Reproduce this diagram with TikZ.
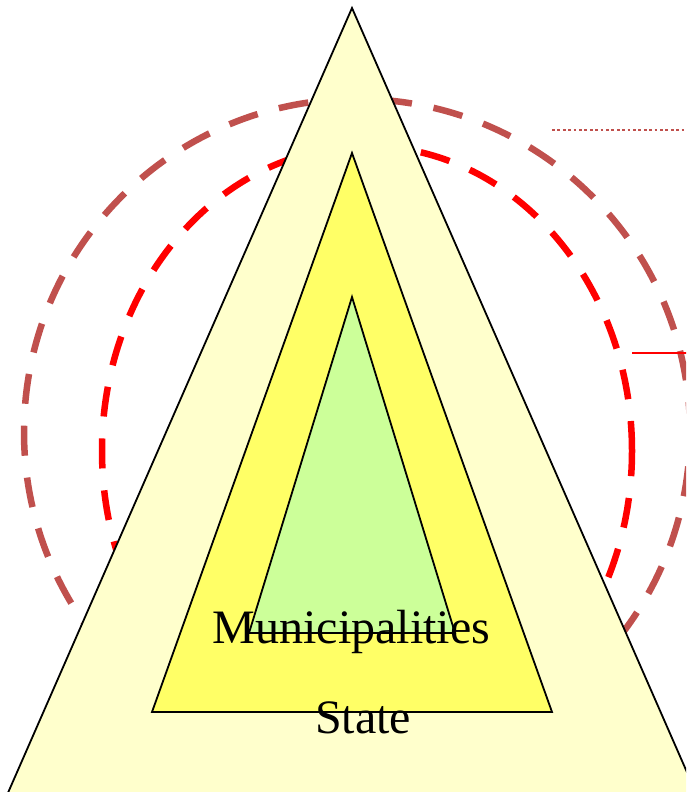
\documentclass[tikz,border=0pt]{standalone}
\usepackage{fontspec}
\setmainfont{Liberation Serif}
\definecolor{ringbrown}{HTML}{C0504D}
\definecolor{paleyellow}{HTML}{FFFFCC}
\definecolor{midyellow}{HTML}{FFFF66}
\definecolor{palegreen}{HTML}{CCFF99}
\begin{document}
\begin{tikzpicture}[x=1pt, y=-1pt,
    ring/.style={line width=6.5pt, dash pattern=on 30pt off 22pt},
    level/.style={draw=black, line width=1.8pt, line join=miter},
    label/.style={font=\fontsize{48}{58}\selectfont, inner sep=0pt, anchor=base}]
  \useasboundingbox (0,0) rectangle (686,792);
  \clip (0,0) rectangle (686,792);

  % Outer and inner rings
  \draw[ring, ringbrown] (357,432) circle [radius=333pt];
  \draw[ring, red] (367,451) ellipse [x radius=265pt, y radius=305pt];

  % Leader lines running off to the right
  \coordinate (outerlead) at (552,130);
  \coordinate (outerend) at (700,130);
  \coordinate (innerlead) at (632,353);
  \coordinate (innerend) at (700,353);
  \draw[ringbrown, line width=2.5pt, dash pattern=on 2.7pt off 2.7pt] (outerlead) -- (outerend);
  \draw[red, line width=2pt] (innerlead) -- (innerend);

  % Nested triangles
  \filldraw[level, fill=paleyellow] (352,8) -- (-39,900) -- (743,900) -- cycle;
  \filldraw[level, fill=midyellow] (352,153) -- (152,712) -- (552,712) -- cycle;
  \filldraw[level, fill=palegreen] (352,297) -- (249,633) -- (455,633) -- cycle;

  % Level names
  \node[label] (muni) at (351.5,643) {Municipalities};
  \node[label] (state) at (363,733) {State};
\end{tikzpicture}
\end{document}
